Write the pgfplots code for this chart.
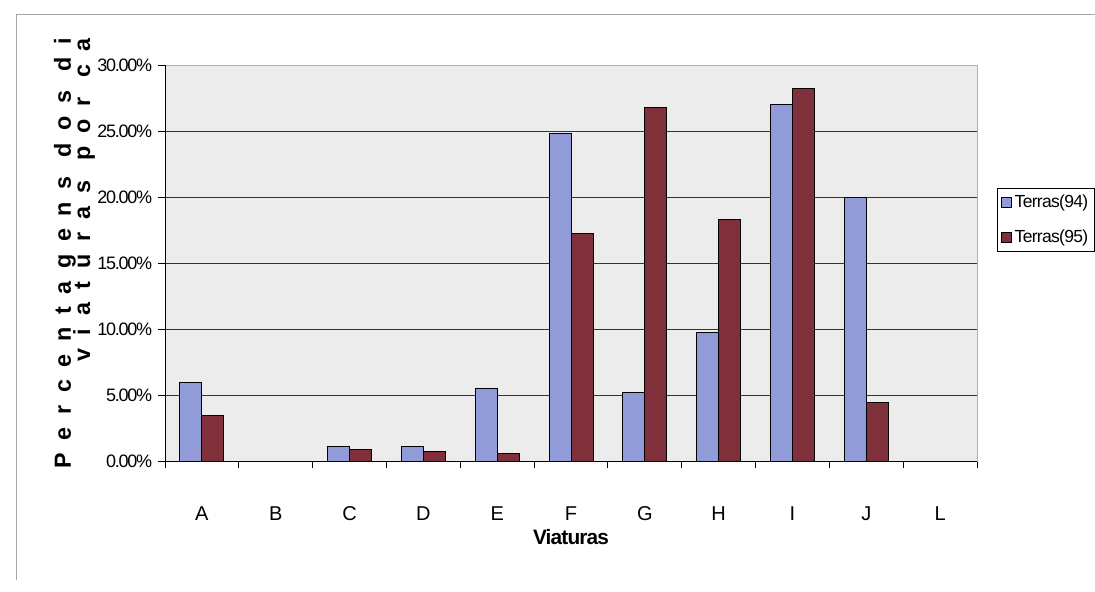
\documentclass[border=0pt]{standalone}
\usepackage{pgfplots}
\pgfplotsset{compat=1.18}
\usepackage{fontspec}
\setmainfont{Liberation Sans}
\definecolor{bluebar}{RGB}{145,155,215}
\definecolor{redbar}{RGB}{128,48,58}
\definecolor{plotbg}{RGB}{236,236,236}
\begin{document}
\begin{tikzpicture}
\useasboundingbox (0,0) rectangle (657pt,354.6pt);
\draw[gray!70, line width=0.6pt] (9.6pt,6.6pt) -- (9.6pt,346.2pt) -- (657pt,346.2pt);
\begin{axis}[
  at={(99pt,78pt)}, anchor=south west,
  scale only axis, width=487.2pt, height=237.6pt,
  xmin=-0.5, xmax=10.5, ymin=0, ymax=30,
  ybar=0pt, bar width=13.2pt,
  axis background/.style={fill=plotbg},
  axis line style={draw=gray!60},
  xtick={-0.5,0.5,...,10.5},
  xticklabels={},
  extra x ticks={0,...,10},
  extra x tick labels={A,B,C,D,E,F,G,H,I,J,L},
  extra x tick style={major tick length=0pt, grid=none},
  major tick length=4.2pt,
  tick align=outside,
  xtick pos=bottom, ytick pos=left,
  tick style={black, line width=0.5pt},
  ytick={0,5,...,30},
  yticklabels={0.00\%,5.00\%,10.00\%,15.00\%,20.00\%,25.00\%,30.00\%},
  ymajorgrids, major grid style={black!80, line width=0.5pt},
  xticklabel style={font=\fontsize{12}{14}\selectfont, yshift=-24pt},
  yticklabel style={font=\fontsize{10.8}{12}\selectfont\addfontfeature{LetterSpace=-7}},
  legend style={at={(rel axis cs:1.0246,0.609)}, anchor=west, draw=black, line width=0.5pt,
    font=\fontsize{10.5}{12}\selectfont\addfontfeature{LetterSpace=-4}, row sep=8pt, inner sep=2pt},
  legend cell align=left,
  legend image code/.code={\draw[#1, line width=0.4pt] (0pt,-3pt) rectangle (6pt,3pt);},
]
\addplot[fill=bluebar, draw=black, line width=0.6pt] coordinates {
 (0,5.95) (2,1.08) (3,1.08) (4,5.5) (5,24.8) (6,5.22) (7,9.75) (8,27.0) (9,20.0)};
\addplot[fill=redbar, draw=black, line width=0.6pt] coordinates {
 (0,3.45) (2,0.85) (3,0.72) (4,0.56) (5,17.25) (6,26.8) (7,18.3) (8,28.25) (9,4.4)};
\legend{Terras(94),Terras(95)}
\draw[black, line width=0.6pt] (rel axis cs:0,1) -- (rel axis cs:0,0) -- (rel axis cs:1,0);
\end{axis}
\node[font=\fontsize{12.5}{14}\selectfont\bfseries\addfontfeature{LetterSpace=-4}] at (342.6pt,32.4pt) {Viaturas};
\node[rotate=90, anchor=base east, inner sep=0pt, font=\fontsize{14}{16}\selectfont\bfseries\addfontfeature{LetterSpace=54}] at (42.6pt,331.8pt) {Percentagens dos di};
\node[rotate=90, anchor=base east, inner sep=0pt, font=\fontsize{14}{16}\selectfont\bfseries\addfontfeature{LetterSpace=56}] at (54pt,331.8pt) {viaturas por ca};
\end{tikzpicture}
\end{document}
